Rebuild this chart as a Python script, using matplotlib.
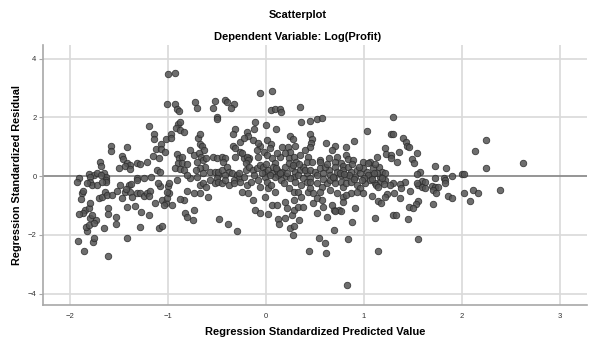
import matplotlib
matplotlib.use("Agg")
import matplotlib.pyplot as plt
import numpy as np

# (standardized predicted value, standardized residual)
upper_left = [
    (-1.00, 3.46), (-0.93, 3.51), (-1.01, 2.47), (-0.93, 2.44), (-0.91, 2.30), (-0.89, 2.21),
    (-0.73, 2.53), (-0.71, 2.32), (-0.52, 2.55), (-0.54, 2.32), (-0.50, 2.02), (-1.20, 1.72),
    (-1.14, 1.42), (-1.14, 1.25), (-0.90, 1.76), (-0.88, 1.83), (-0.92, 1.64), (-0.88, 1.56),
    (-0.84, 1.50), (-0.97, 1.42), (-1.02, 1.27), (-0.97, 1.28), (-0.70, 1.29), (-0.68, 1.42),
    (-0.67, 1.09), (-0.65, 1.02), (-0.63, 0.88), (-1.58, 1.02), (-1.58, 0.86), (-1.42, 0.98),
    (-1.07, 1.08), (-1.12, 0.91), (-1.07, 0.92), (-1.03, 0.83), (-1.15, 0.70), (-1.09, 0.60),
    (-1.47, 0.69), (-1.46, 0.57), (-1.42, 0.45), (-1.39, 0.38), (-1.44, 0.34), (-1.39, 0.23),
    (-1.50, 0.26), (-1.70, 0.47), (-1.69, 0.36), (-1.32, 0.45), (-1.29, 0.42), (-1.22, 0.47),
    (-0.91, 0.74), (-0.89, 0.60), (-0.86, 0.64), (-0.90, 0.45), (-0.86, 0.43), (-0.81, 0.41),
    (-0.93, 0.26), (-0.88, 0.23), (-0.84, 0.20), (-0.78, 0.88), (-0.74, 0.71), (-0.69, 0.77),
    (-0.66, 0.66), (-0.64, 0.54), (-0.71, 0.49), (-0.61, 0.60), (-0.62, 0.32), (-0.67, 0.26),
    (-0.57, 0.15), (-0.64, 0.09), (-0.72, 0.20), (-0.54, 0.66), (-0.50, 0.60), (-0.52, 0.15),
    (-0.49, 0.03), (-1.11, 0.20), (-1.08, 0.15), (-1.91, -0.06), (-1.81, 0.07), (-1.76, 0.03),
    (-1.73, 0.09), (-1.66, 0.11), (-1.64, -0.02), (-1.25, -0.06), (-1.18, -0.04), (-1.32, -0.08),
    (-0.78, -0.08), (-0.71, -0.02), (-0.50, -0.08), (-0.81, 0.03), (-1.80, -0.02), (-1.69, 0.03),
]

upper_mid = [
    (-0.06, 2.83), (0.06, 2.91), (-0.42, 2.59), (-0.40, 2.52), (-0.33, 2.47), (-0.36, 2.31),
    (-0.50, 1.96), (0.05, 2.24), (0.09, 2.27), (0.14, 2.27), (0.15, 2.17), (0.35, 2.36),
    (0.36, 1.84), (0.45, 1.89), (0.52, 1.93), (0.57, 1.97), (-0.11, 1.83), (-0.12, 1.62),
    (0.00, 1.73), (0.10, 1.59), (-0.32, 1.61), (-0.34, 1.43), (-0.20, 1.50), (-0.18, 1.37),
    (1.03, 1.52), (0.90, 1.19), (0.24, 1.37), (0.27, 1.25), (0.61, 1.11), (0.70, 1.02),
    (0.67, 0.88), (0.82, 0.98), (0.45, 1.45), (0.47, 1.25), (0.46, 1.13), (0.45, 0.98),
    (0.01, 1.22), (0.05, 1.09), (-0.06, 1.02), (-0.09, 0.88), (-0.02, 0.83), (0.04, 0.94),
    (-0.34, 1.02), (-0.27, 1.17), (-0.27, 0.83), (-0.32, 0.66), (-0.23, 0.60), (-0.17, 0.60),
    (0.16, 1.00), (0.22, 1.00), (0.30, 1.02), (0.24, 0.83), (0.19, 0.77), (0.14, 0.66),
    (0.23, 0.60), (0.28, 0.66), (0.35, 0.71), (-0.45, 0.66), (-0.42, 0.60), (0.55, 0.54),
    (0.64, 0.60), (0.72, 0.66), (0.82, 0.71), (0.84, 0.57), (0.89, 0.54), (-0.13, 1.22),
    (-0.08, 1.11), (-0.08, 0.66), (0.01, 0.71), (0.06, 0.60), (0.11, 0.77), (0.40, 0.88),
    (0.43, 0.66), (-0.23, 1.28), (-0.32, 0.94), (-0.25, 0.77), (-0.20, 0.66), (-0.18, 0.54),
]

upper_right = [
    (1.30, 2.02), (1.28, 1.42), (1.30, 1.45), (1.40, 1.30), (1.43, 1.17), (1.44, 1.02),
    (1.46, 0.98), (1.21, 0.94), (1.22, 0.75), (1.28, 0.71), (1.28, 0.60), (1.36, 0.81),
    (1.34, 0.47), (1.54, 0.78), (1.49, 0.58), (1.51, 0.43), (2.25, 1.22), (2.13, 0.85),
    (2.25, 0.28), (2.62, 0.45), (1.73, 0.36), (1.84, 0.27), (1.57, 0.15), (1.54, 0.07),
    (1.90, 0.02), (2.00, 0.06), (2.02, 0.07), (1.72, -0.06), (1.82, -0.08), (1.06, 0.49),
    (1.13, 0.64), (1.15, 0.32), (1.09, 0.26), (1.18, 0.15), (1.21, 0.09), (1.16, -0.02),
    (1.08, 0.03), (1.11, 0.40), (1.13, 0.09),
]

lower_left = [
    (-1.92, -2.21), (-1.86, -2.55), (-1.77, -2.23), (-1.76, -2.12), (-1.61, -2.73), (-1.42, -2.11),
    (-1.83, -1.86), (-1.84, -1.72), (-1.81, -1.67), (-1.74, -1.50), (-1.76, -1.59), (-1.66, -1.77),
    (-1.80, -1.44), (-1.78, -1.33), (-1.85, -1.16), (-1.87, -1.27), (-1.91, -1.29), (-1.81, -1.08),
    (-1.80, -0.93), (-1.61, -1.08), (-1.61, -1.30), (-1.53, -1.40), (-1.53, -1.64), (-1.29, -1.72),
    (-1.42, -1.05), (-1.34, -1.02), (-1.28, -1.21), (-1.20, -1.33), (-1.09, -1.78), (-1.06, -1.70),
    (-1.88, -0.59), (-1.89, -0.79), (-1.87, -0.50), (-1.71, -0.76), (-1.68, -0.70), (-1.65, -0.53),
    (-1.62, -0.65), (-1.57, -0.65), (-1.52, -0.50), (-1.47, -0.76), (-1.44, -0.53), (-1.39, -0.53),
    (-1.37, -0.70), (-1.40, -0.31), (-1.43, -0.45), (-1.32, -0.59), (-1.29, -0.59), (-1.25, -0.68),
    (-1.22, -0.59), (-1.19, -0.50), (-1.20, -0.68), (-1.13, -0.90), (-1.06, -0.82), (-1.02, -0.91),
    (-1.01, -0.76), (-0.99, -0.59), (-0.96, -0.99), (-1.04, -0.99), (-1.00, -0.34), (-1.08, -0.34),
    (-1.93, -0.19), (-1.80, -0.19), (-1.78, -0.31), (-1.73, -0.31), (-1.64, -0.14), (-1.49, -0.31),
    (-1.38, -0.27), (-1.32, -0.14), (-1.10, -0.25), (-0.99, -0.25), (-0.67, -0.31), (-0.64, -0.25),
    (-0.61, -0.36), (-0.59, -0.70), (-0.67, -0.59), (-0.74, -0.59), (-0.81, -0.50), (-0.84, -0.82),
    (-0.88, -0.79), (-0.83, -1.27), (-0.74, -1.16), (-0.75, -1.50), (-0.81, -1.41), (-0.57, -0.14),
    (-0.52, -0.25), (-1.83, -0.25), (-1.63, -0.19), (-1.68, -0.19), (-1.01, -0.53), (-0.91, -0.14),
]

core = [
    (-0.44, 0.49), (-0.21, 0.43), (0.09, 0.43), (0.31, 0.49), (0.42, 0.49), (0.47, 0.49),
    (-0.49, 0.15), (-0.45, 0.20), (-0.40, 0.32), (-0.38, 0.15), (-0.42, 0.03), (-0.35, 0.09),
    (-0.30, 0.03), (-0.28, -0.08), (-0.27, -0.19), (-0.33, -0.14), (-0.21, 0.20), (-0.17, 0.32),
    (-0.13, 0.20), (-0.09, 0.26), (-0.06, 0.37), (-0.03, 0.32), (-0.01, 0.15), (0.02, 0.20),
    (0.06, 0.09), (0.07, 0.32), (0.11, 0.20), (0.12, 0.03), (0.16, 0.15), (0.19, 0.32),
    (0.23, 0.43), (0.26, 0.26), (0.30, 0.15), (0.35, 0.20), (0.38, 0.32), (0.42, 0.09),
    (0.45, -0.08), (0.28, -0.02), (0.09, -0.02), (-0.01, -0.02), (-0.04, 0.09),
    (-0.49, -0.19), (-0.45, -0.25), (-0.42, -0.14), (-0.38, -0.31), (-0.33, -0.25), (-0.25, -0.53),
    (-0.18, -0.59), (-0.20, -0.31), (-0.06, -0.36), (-0.01, -0.70), (0.01, -0.19), (0.02, -0.42),
    (0.09, -0.53), (0.23, -0.42), (0.28, -0.53), (0.33, -0.53), (0.36, -0.70), (0.43, -0.53),
    (-0.23, -0.02), (-0.15, -0.19), (-0.28, 0.09),
    (0.04, 0.05), (0.14, 0.09), (0.20, 0.02), (0.24, -0.08), (0.33, 0.05), (0.38, -0.05),
    (0.40, 0.20), (0.15, -0.12), (0.05, -0.30), (0.18, -0.25), (0.30, -0.20), (0.36, -0.30),
    (0.42, -0.20), (0.10, 0.28), (0.21, 0.12), (0.27, 0.38), (0.34, 0.40), (-0.08, -0.12),
    (-0.12, 0.05), (0.00, 0.40),
    (0.70, 0.49), (0.77, 0.43), (0.79, 0.34), (0.55, 0.49),
    (0.45, 0.20), (0.50, 0.15), (0.55, 0.26), (0.52, 0.03), (0.58, 0.09), (0.64, 0.20),
    (0.65, 0.03), (0.70, 0.32), (0.72, 0.15), (0.76, 0.03), (0.79, 0.20), (0.84, 0.32),
    (0.87, 0.15), (0.93, 0.20), (0.96, 0.09), (0.99, 0.49), (1.04, 0.43), (0.99, 0.26),
    (1.03, 0.15), (1.04, 0.03), (0.91, -0.02), (0.82, -0.02), (0.69, -0.08),
    (0.45, -0.19), (0.52, -0.25), (0.57, -0.36), (0.62, -0.25), (0.65, -0.14), (0.70, -0.25),
    (0.76, -0.19), (0.79, -0.36), (0.82, -0.25), (0.87, -0.19), (0.93, -0.31), (0.96, -0.42),
    (1.01, -0.25), (1.06, -0.14), (0.45, -0.42), (0.48, -0.59), (0.55, -0.53), (0.65, -0.48),
    (0.72, -0.59), (0.79, -0.70), (0.87, -0.59), (0.93, -0.53), (0.99, -0.59),
    (0.60, 0.30), (0.68, -0.02), (0.75, 0.10), (0.85, 0.05), (0.90, -0.10), (0.95, 0.30),
    (1.00, -0.05), (0.58, -0.10), (0.80, 0.08), (0.62, 0.42), (0.88, 0.40), (0.98, -0.15),
]

lower_mid = [
    (0.83, -3.71), (0.44, -2.55), (0.61, -2.63), (0.54, -2.12), (0.60, -2.27), (0.84, -2.14),
    (0.69, -1.84), (-0.48, -1.47), (-0.39, -1.62), (-0.30, -1.88), (0.12, -1.47), (0.13, -1.63),
    (0.19, -1.44), (0.24, -1.78), (0.27, -2.01), (0.29, -1.70), (0.34, -1.50), (0.26, -1.33),
    (0.62, -1.38), (0.88, -1.57), (0.69, -1.16), (0.74, -1.16), (-0.13, -0.82), (-0.11, -1.16),
    (-0.06, -1.25), (0.02, -1.28), (0.06, -0.99), (0.11, -0.99), (0.19, -0.87), (0.21, -1.10),
    (0.28, -1.14), (0.33, -1.04), (0.38, -1.04), (0.48, -0.93), (0.52, -0.76), (0.57, -0.82),
    (0.58, -1.04), (0.67, -0.99), (0.70, -1.18), (0.76, -1.18), (0.79, -0.87), (0.91, -1.10),
    (0.82, -0.65), (0.52, -1.27), (0.28, -0.82),
]

lower_right = [
    (1.83, -0.14), (1.83, -0.23), (1.59, -0.16), (1.62, -0.19), (1.55, -0.31), (1.59, -0.36),
    (1.62, -0.42), (1.69, -0.34), (1.72, -0.36), (1.76, -0.38), (1.70, -0.48), (1.74, -0.59),
    (1.70, -0.96), (1.86, -0.68), (1.90, -0.76), (2.02, -0.59), (2.08, -0.84), (2.11, -0.49),
    (2.16, -0.56), (2.39, -0.48), (1.42, -0.19), (1.37, -0.27), (1.30, -0.23), (1.27, -0.31),
    (1.38, -0.42), (1.47, -0.50), (1.31, -0.57), (1.23, -0.61), (1.21, -0.70), (1.08, -0.68),
    (1.37, -0.76), (1.14, -0.84), (1.17, -0.90), (1.55, -0.84), (1.53, -0.96), (1.46, -1.04),
    (1.50, -1.10), (1.45, -1.46), (1.30, -1.33), (1.33, -1.33), (1.11, -1.42), (1.55, -2.14),
    (1.14, -2.54), (1.11, -0.25), (1.16, -0.19), (1.21, -0.14), (1.54, -0.25),
    (1.08, -0.10), (1.12, -0.30), (1.18, -0.05), (1.10, 0.12), (1.14, -0.38), (1.20, -0.28),
]

x_ticks = [-2, -1, 0, 1, 2, 3]
y_ticks = [-4, -2, 0, 2, 4]

pts = np.array(upper_left + upper_mid + upper_right + lower_left + core + lower_mid + lower_right)

plt.rcParams["font.family"] = ["Liberation Sans", "DejaVu Sans"]

fig = plt.figure(figsize=(5.95, 3.47), dpi=100)
ax = fig.add_axes([0.072, 0.121, 0.915, 0.749])
ax.set_xlim(-2.28, 3.28)
ax.set_ylim(-4.39, 4.46)

# grid lines and the zero reference line
for v in x_ticks:
    ax.axvline(v, color="#d9d9d9", lw=1.2, zorder=0)
for v in y_ticks:
    if v != 0:
        ax.axhline(v, color="#d9d9d9", lw=1.2, zorder=0)
ax.axhline(0, color="#8c8c8c", lw=1.3, zorder=1)

ax.scatter(pts[:, 0], pts[:, 1], s=22, facecolor="#555555", edgecolor="#2a2a2a",
           linewidths=0.6, alpha=0.85, zorder=2)

for side in ["top", "right"]:
    ax.spines[side].set_visible(False)
for side in ["left", "bottom"]:
    ax.spines[side].set_color("#a8a8a8")
    ax.spines[side].set_linewidth(1.2)

ax.set_xticks(x_ticks)
ax.set_yticks(y_ticks)
ax.tick_params(axis="x", length=0, labelsize=5.5, pad=6, labelcolor="#333333")
ax.tick_params(axis="y", length=3, color="#a8a8a8", labelsize=5.5, pad=1.5, labelcolor="#333333")

ax.set_xlabel("Regression Standardized Predicted Value", fontsize=8, fontweight="bold", labelpad=5)
ax.set_ylabel("Regression Standardized Residual", fontsize=7.8, fontweight="bold", labelpad=4)

fig.text(0.5, 1 - 15 / 347, "Scatterplot", ha="center", va="center", fontsize=8, fontweight="bold")
fig.text(0.5, 1 - 37 / 347, "Dependent Variable: Log(Profit)", ha="center", va="center",
         fontsize=8, fontweight="bold")

fig.savefig("out.png", dpi=100)
